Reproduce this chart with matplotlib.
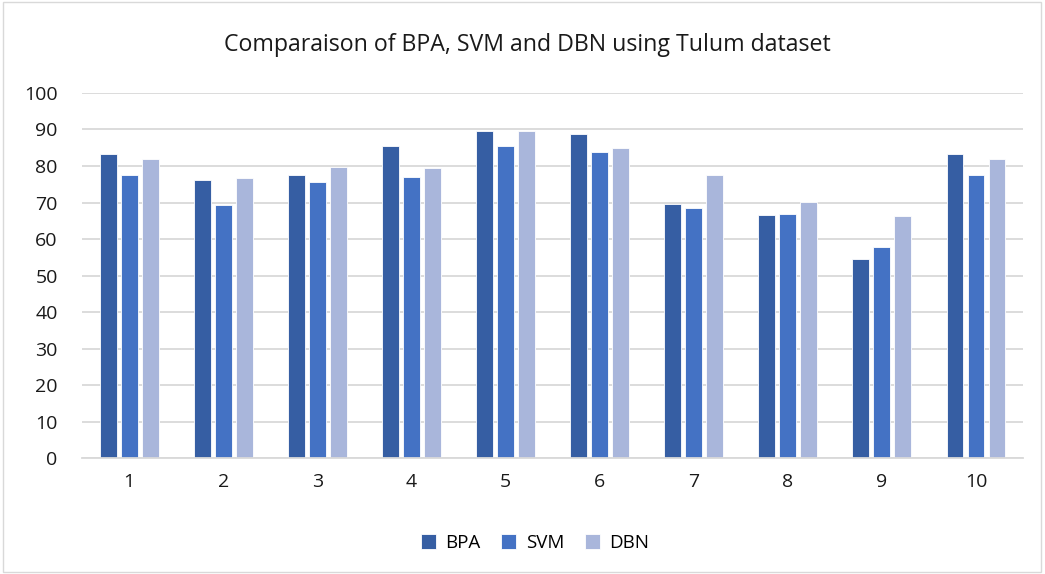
import numpy as np
import matplotlib.pyplot as plt
from matplotlib.patches import Rectangle

# Values
runs = ["1", "2", "3", "4", "5", "6", "7", "8", "9", "10"]
bpa = [83.3, 76.1, 77.4, 85.4, 89.6, 88.8, 69.5, 66.5, 54.6, 83.3]
svm = [77.4, 69.4, 75.5, 77.0, 85.5, 83.8, 68.4, 66.8, 57.9, 77.4]
dbn = [81.8, 76.8, 79.7, 79.5, 89.7, 84.9, 77.5, 70.1, 66.4, 81.8]

plt.rcParams["font.family"] = ["Open Sans", "DejaVu Sans"]

fig = plt.figure(figsize=(10.45, 5.74), dpi=100)
ax = fig.add_axes([0.0785, 0.202, 0.9005, 0.636])

x = np.arange(len(runs))
step = 0.223
w = 0.18
ax.bar(x - step, bpa, w, color="#365EA3", label="BPA", edgecolor="white", linewidth=0.6)
ax.bar(x, svm, w, color="#4472C4", label="SVM", edgecolor="white", linewidth=0.6)
ax.bar(x + step, dbn, w, color="#A9B6DB", label="DBN", edgecolor="white", linewidth=0.6)

ax.set_xlim(-0.5, len(runs) - 0.5)
ax.set_ylim(0, 100)
ax.set_yticks(range(0, 101, 10))
ax.set_xticks(x)
ax.set_xticklabels(runs)
ax.tick_params(axis="both", length=0, labelsize=14, colors="#1a1a1a")
ax.tick_params(axis="y", pad=17.5)
ax.tick_params(axis="x", pad=11)

ax.grid(axis="y", color="#D9D9D9", linewidth=1.3)
ax.set_axisbelow(True)
for s in ["top", "right", "left"]:
    ax.spines[s].set_visible(False)
ax.spines["bottom"].set_color("#D9D9D9")
ax.spines["bottom"].set_linewidth(1.3)

fig.text(0.505, 0.921, "Comparaison of BPA, SVM and DBN using Tulum dataset",
         ha="center", va="center", fontsize=16.7, color="#1a1a1a")

fig.legend(loc="center", bbox_to_anchor=(0.512, 0.054), ncol=3, frameon=False,
           fontsize=13.5, handlelength=0.8, handleheight=0.8, columnspacing=1.1,
           handletextpad=0.5)

# light frame round the chart
fig.patches.append(Rectangle((0.003, 0.004), 0.993, 0.992, transform=fig.transFigure,
                             fill=False, edgecolor="#D9D9D9", linewidth=1))

plt.savefig("out.png", dpi=100)
